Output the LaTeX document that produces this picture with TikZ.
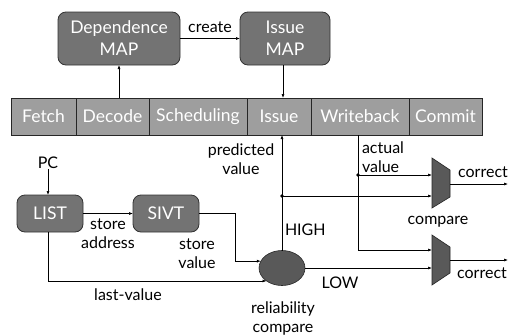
\documentclass[tikz,border=0pt]{standalone}
\usepackage{fontspec}
\setmainfont{Lato}
\usetikzlibrary{shapes.geometric,arrows.meta}
\begin{document}
\begin{tikzpicture}[x=1pt,y=-1pt,
  every node/.style={inner sep=0pt,outer sep=0pt},
  lbl/.style={font=\fontsize{16}{19}\selectfont,align=center},
  mapbox/.style={draw=black!80,line width=0.8pt,rounded corners=8pt,fill=black!55,text=white,
     font=\fontsize{17.5}{22}\selectfont,align=center},
  stage/.style={draw=black!85,line width=1pt,fill=black!38,text=white,
     font=\fontsize{17.5}{20}\selectfont,minimum height=37pt},
  smallbox/.style={draw=black!80,line width=0.8pt,rounded corners=8pt,fill=black!55,text=white,
     font=\fontsize{17.5}{20}\selectfont,minimum width=66pt,minimum height=37pt},
  wire/.style={line width=0.6pt,-{Latex[length=4pt,width=3pt]}},
  cmp/.style={draw=black!85,line width=0.6pt,fill=black!65}
]
\useasboundingbox (0,0) rectangle (513,335);

% maps
\node[mapbox,minimum width=122pt,minimum height=53pt] (dep) at (119,38.5) {Dependence\\MAP};
\node[mapbox,minimum width=90pt,minimum height=53pt] (imap) at (285,38.5) {Issue\\MAP};
\draw[wire] (dep.east) -- (imap.west) node[lbl,midway,above=6pt] {create};

% pipeline
\node[stage,minimum width=65pt] (fetch) at (43.5,116.5) {Fetch};
\node[stage,minimum width=73pt] (decode) at (112.5,116.5) {Decode};
\node[stage,minimum width=98pt] (sched) at (198,116.5) {Scheduling};
\node[stage,minimum width=64pt] (issue) at (279,116.5) {Issue};
\node[stage,minimum width=98pt] (wb) at (360,116.5) {Writeback};
\node[stage,minimum width=73pt] (commit) at (445.5,116.5) {Commit};

\draw[wire] (decode.north -| dep.south) -- (dep.south);
\draw[wire] ([xshift=-2pt]imap.south) -- ([xshift=-2pt]imap.south |- issue.north);

% lower part
\node[lbl] (pc) at (48,163) {PC};
\node[smallbox] (list) at (50,213.5) {LIST};
\node[smallbox] (sivt) at (166,213.5) {SIVT};
\node[ellipse,draw=black!85,line width=0.6pt,fill=black!65,minimum width=46pt,minimum height=35pt] (rel) at (282,268) {};

\draw[wire] (pc.south) -- (pc.south |- list.north);
\draw[wire] (list.east) -- (sivt.west);
\coordinate (sv) at (235,213.5);
\draw[wire] (sivt.east) -- (sv) |- (rel.162);
\draw[wire] (list.south -| pc.south) |- (rel.220);

% comparators
\fill[cmp] (432,158) -- (450,170) -- (450,197) -- (432,208) -- cycle;
\fill[cmp] (432,235) -- (450,247) -- (450,273) -- (432,285) -- cycle;
\coordinate (c1a) at (432,175);
\coordinate (c1b) at (432,196);
\coordinate (c1o) at (450,184);
\coordinate (c2a) at (432,250);
\coordinate (c2b) at (432,268);
\coordinate (c2o) at (450,260);
\coordinate (o1) at (508,184);
\coordinate (o2) at (508,260);

\coordinate (pdot) at (282,196);
\coordinate (adot) at (358,175);

\draw[wire] (rel.north) -- (rel.north |- issue.south);
\draw[wire] (pdot) -- (c1b);
\draw[wire] (wb.south -| adot) |- (c2a);
\draw[wire] (adot) -- (c1a);
\draw[wire] (rel.east) -- (c2b);
\draw[wire] (c1o) -- (o1);
\draw[wire] (c2o) -- (o2);
\fill (pdot) circle (1.8pt);
\fill (adot) circle (1.8pt);

% labels
\node[lbl] at (108,233.5) {store\\address};
\node[lbl] at (197,254) {store\\value};
\node[lbl] at (128,295) {last-value};
\node[lbl] at (241,159) {predicted\\value};
\node[lbl,align=left,anchor=west] at (362,157.5) {actual\\value};
\node[lbl,anchor=west] at (285,230) {HIGH};
\node[lbl] at (340,283) {LOW};
\node[lbl] at (438,222) {compare};
\node[lbl] at (483,172) {correct};
\node[lbl] at (482,273) {correct};
\node[lbl] at (283,318) {reliability\\compare};
\end{tikzpicture}
\end{document}
